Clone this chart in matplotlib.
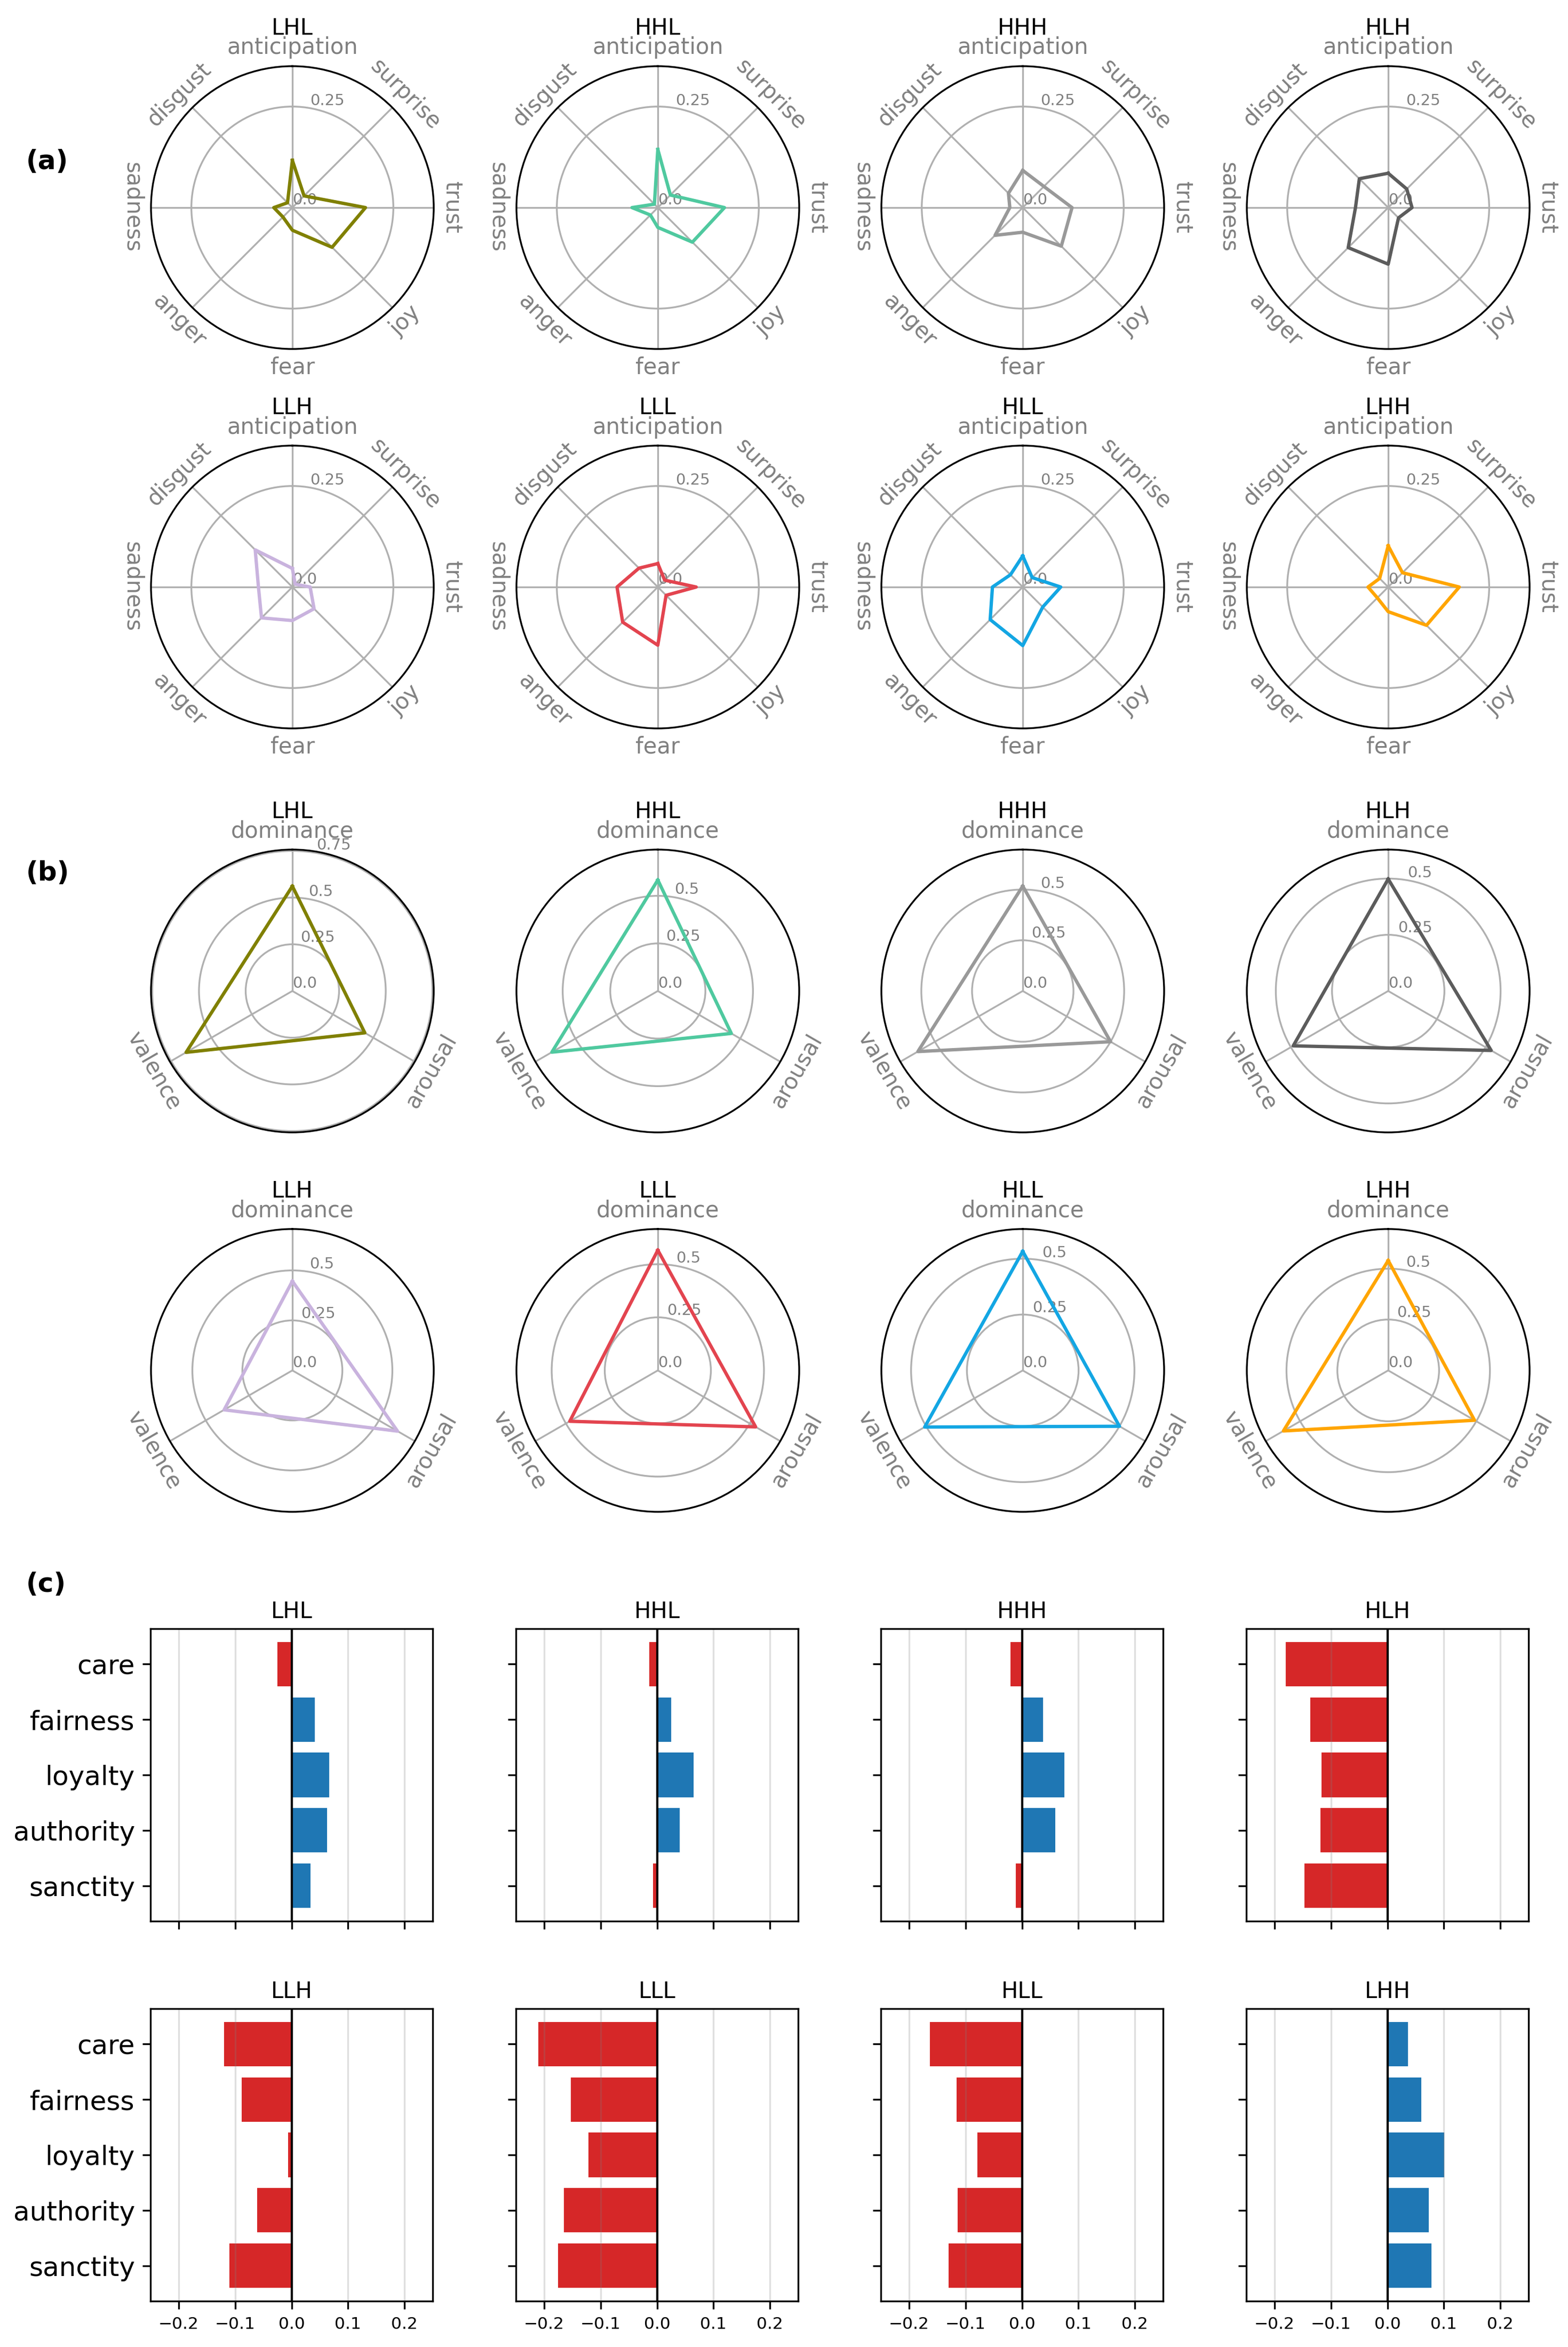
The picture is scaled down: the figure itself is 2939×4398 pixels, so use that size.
import numpy as np
import matplotlib
matplotlib.use("Agg")
import matplotlib.pyplot as plt

# ---------------- data ----------------
groups = ["LHL", "HHL", "HHH", "HLH", "LLH", "LLL", "HLL", "LHH"]
group_colors = ["#808000", "#4fc99f", "#999999", "#5c5c5c",
                "#c9b3de", "#e3444f", "#13a6e3", "#ffa500"]

emotions = ["anticipation", "surprise", "trust", "joy",
            "fear", "anger", "sadness", "disgust"]
emo_LHL = [0.117, 0.041, 0.181, 0.139, 0.056, 0.033, 0.046, 0.017]
emo_HHL = [0.144, 0.044, 0.165, 0.121, 0.049, 0.026, 0.064, 0.012]
emo_HHH = [0.092, 0.074, 0.122, 0.135, 0.061, 0.097, 0.032, 0.050]
emo_HLH = [0.085, 0.065, 0.059, 0.036, 0.140, 0.140, 0.081, 0.101]
emo_LLH = [0.046, 0.010, 0.044, 0.076, 0.083, 0.108, 0.084, 0.130]
emo_LLL = [0.058, 0.024, 0.095, 0.029, 0.144, 0.123, 0.101, 0.066]
emo_HLL = [0.077, 0.033, 0.094, 0.070, 0.145, 0.114, 0.075, 0.043]
emo_LHH = [0.102, 0.050, 0.176, 0.134, 0.061, 0.038, 0.050, 0.030]
emo_all = [emo_LHL, emo_HHL, emo_HHH, emo_HLH, emo_LLH, emo_LLL, emo_HLL, emo_LHH]

vad_dims = ["dominance", "arousal", "valence"]
vad_LHL = [0.561, 0.448, 0.657]
vad_HHL = [0.583, 0.446, 0.643]
vad_HHH = [0.517, 0.500, 0.597]
vad_HLH = [0.498, 0.529, 0.488]
vad_LLH = [0.446, 0.607, 0.394]
vad_LLL = [0.566, 0.532, 0.479]
vad_HLL = [0.533, 0.500, 0.507]
vad_LHH = [0.540, 0.490, 0.595]
vad_all = [vad_LHL, vad_HHL, vad_HHH, vad_HLH, vad_LLH, vad_LLL, vad_HLL, vad_LHH]

moral = ["care", "fairness", "loyalty", "authority", "sanctity"]
mf_LHL = [-0.025, 0.041, 0.067, 0.063, 0.034]
mf_HHL = [-0.014, 0.025, 0.065, 0.040, -0.007]
mf_HHH = [-0.020, 0.037, 0.075, 0.059, -0.011]
mf_HLH = [-0.180, -0.137, -0.117, -0.119, -0.147]
mf_LLH = [-0.120, -0.088, -0.006, -0.061, -0.110]
mf_LLL = [-0.210, -0.153, -0.121, -0.165, -0.175]
mf_HLL = [-0.163, -0.116, -0.079, -0.114, -0.130]
mf_LHH = [0.036, 0.060, 0.101, 0.073, 0.078]
mf_all = [mf_LHL, mf_HHL, mf_HHH, mf_HLH, mf_LLH, mf_LLL, mf_HLL, mf_LHH]

emo_rmax = 0.35
bar_xticks = [-0.2, -0.1, 0.0, 0.1, 0.2]

# ---------------- layout ----------------
W, H = 2939, 4398
DPI = 300
fig = plt.figure(figsize=(W / DPI, H / DPI), dpi=DPI)

col_left = [283, 968, 1652, 2337]
AX_W = 530
LABEL_FACTOR = (265 + 34.5) / 265.0
GRAY = "#808080"


def fx(px):
    return px / W


def fy(px):
    return px / H


def radar(ax, labels, vals, color, rmax, title):
    n = len(labels)
    ang = np.linspace(0, 2 * np.pi, n, endpoint=False)
    ax.set_theta_offset(np.pi / 2)
    ax.set_theta_direction(-1)
    v = list(vals)
    ax.plot(np.r_[ang, ang[0]], v + [v[0]], color=color, lw=1.5)
    ax.set_xticks(ang)
    ax.set_xticklabels([])
    ax.set_ylim(0, rmax)
    ticks = np.arange(0, rmax, 0.25)
    ax.set_yticks(ticks)
    ax.set_yticklabels([str(float(round(t, 2))) for t in ticks])
    ax.tick_params(axis="y", labelsize=7, labelcolor=GRAY)
    ax.set_rlabel_position(10)
    for a, lab in zip(ang, labels):
        tdeg = np.degrees(a)
        rot = ((-tdeg + 90) % 180) - 90
        ax.text(a, rmax * LABEL_FACTOR, lab, rotation=rot, rotation_mode="anchor",
                ha="center", va="center", fontsize=10, color=GRAY)
    ax.set_title(title, fontsize=10, y=1.0, pad=14.2)


# panel (a)
row_a_bottom = [3744, 3033]
for i, (g, c, vals) in enumerate(zip(groups, group_colors, emo_all)):
    r, cidx = divmod(i, 4)
    ax = fig.add_axes([fx(col_left[cidx]), fy(row_a_bottom[r]), fx(AX_W), fy(AX_W)],
                      projection="polar")
    radar(ax, emotions, vals, c, emo_rmax, g)

# panel (b)
row_b_bottom = [2276, 1565]
for i, (g, c, vals) in enumerate(zip(groups, group_colors, vad_all)):
    r, cidx = divmod(i, 4)
    ax = fig.add_axes([fx(col_left[cidx]), fy(row_b_bottom[r]), fx(AX_W), fy(AX_W)],
                      projection="polar")
    radar(ax, vad_dims, vals, c, max(vals) + 0.1, g)

# panel (c)
row_c_bottom = [798, 86]
BAR_H = 548
for i, (g, vals) in enumerate(zip(groups, mf_all)):
    r, cidx = divmod(i, 4)
    ax = fig.add_axes([fx(col_left[cidx] - 1), fy(row_c_bottom[r]), fx(AX_W - 1), fy(BAR_H)])
    y = np.arange(len(moral))
    cols = ["#d62728" if v < 0 else "#1f77b4" for v in vals]
    ax.barh(y, vals, color=cols, height=0.8)
    ax.axvline(0, color="black", lw=1.0)
    ax.set_xlim(-0.25, 0.25)
    ax.set_xticks(bar_xticks)
    ax.grid(axis="x", color="gray", alpha=0.25, lw=0.8)
    ax.set_yticks(y)
    if cidx == 0:
        ax.set_yticklabels(moral, fontsize=12)
    else:
        ax.set_yticklabels([])
    ax.invert_yaxis()
    ax.tick_params(axis="x", labelsize=7.5)
    if r == 0:
        ax.tick_params(axis="x", labelbottom=False)
    ax.set_title(g, fontsize=10, pad=4.8)

# panel labels
for lab, ypx in [("(a)", 303), ("(b)", 1636), ("(c)", 2969)]:
    fig.text(fx(49), 1 - fy(ypx), lab, fontsize=12, fontweight="bold",
             ha="left", va="center")

fig.savefig("out.png", dpi=DPI)
